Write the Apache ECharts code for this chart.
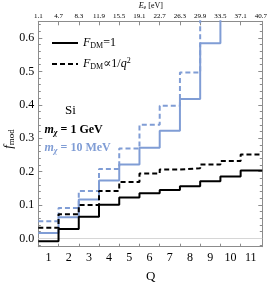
<!DOCTYPE html>
<html><head><meta charset="utf-8">
<script src="https://cdn.jsdelivr.net/npm/echarts@6/dist/echarts.min.js"></script>
<style>html,body{margin:0;padding:0;background:#fff}#c{width:270px;height:285px}</style>
</head><body><div id="c"></div>
<script>
// ---- data ----
const Q = [1,2,3,4,5,6,7,8,9,10,11];
const eLabels = ['1.1','4.7','8.3','11.9','15.5','19.1','22.7','26.3','29.9','33.5','37.1','40.7'];
const yTickLabels = [0.0,0.1,0.2,0.3,0.4,0.5,0.6];
const black1 = [-0.009,0.028,0.065,0.101,0.122,0.135,0.145,0.156,0.171,0.185,0.203];
const blackQ2 = [0.032,0.072,0.100,0.142,0.169,0.194,0.206,0.210,0.221,0.232,0.251];
const blue1 = [0.016,0.063,0.116,0.173,0.221,0.271,0.322,0.417,0.584,0.80,1.00];
const blueQ2 = [0.051,0.091,0.142,0.208,0.269,0.340,0.397,0.497,0.75,0.95,1.20];

const xMin = 0.5, xMax = 11.57, yMin = -0.025, yMax = 0.65;
const BLUE = '#809dd5';
const FONT = '"Liberation Serif", "DejaVu Serif", serif';
const FRAME = '#8c8c8c';

const halfVals = Q.slice(0, -1).map(q => q + 0.5);
const edgeVals = [Q[0] - 0.5].concat(Q.map(q => q + 0.5));
const minorY = [];
for (let k = -1; k <= 32; k++) { if (k % 5 !== 0) { const v = Math.round(k * 2) / 100; if (v > yMin && v < yMax) minorY.push(v); } }

function stepData(vals) {
  const d = Q.map((q, i) => [q - 0.5, vals[i]]);
  d.push([xMax, vals[vals.length - 1]]);
  return d;
}
const N1 = 'F_DM=1', N2 = 'F_DM∝1/q²';

const yBase = {type:'value', min:yMin, max:yMax, splitLine:{show:false}, gridIndex:0};
const option = {
  animation:false,
  backgroundColor:'#fff',
  grid:{left:38.3, right:6.7, top:21.3, bottom:38.3},
  xAxis:[
    {type:'value', min:xMin, max:xMax, position:'bottom', splitLine:{show:false},
     axisLine:{show:true, onZero:false, lineStyle:{color:FRAME, width:1}},
     axisTick:{show:true, inside:true, length:3, customValues:halfVals, lineStyle:{color:FRAME}},
     axisLabel:{customValues:Q, color:'#000', fontFamily:FONT, fontSize:12, margin:5, formatter:v=>String(v)}},
    {type:'value', min:xMin, max:xMax, position:'top', splitLine:{show:false},
     axisLine:{show:true, onZero:false, lineStyle:{color:FRAME, width:1}},
     axisTick:{show:true, inside:true, length:4, customValues:halfVals, lineStyle:{color:FRAME}},
     axisLabel:{customValues:edgeVals, color:'#000', fontFamily:FONT, fontSize:7, margin:2,
       formatter:v=>{const i=Math.round(v-0.5); return eLabels[i]||'';}}}
  ],
  yAxis:[
    Object.assign({}, yBase, {position:'left',
      axisLine:{show:true, onZero:false, lineStyle:{color:FRAME, width:1}},
      axisTick:{show:true, inside:true, length:4, customValues:yTickLabels, lineStyle:{color:FRAME}},
      axisLabel:{customValues:yTickLabels, color:'#000', fontFamily:FONT, fontSize:12, margin:4, formatter:v=>v.toFixed(1)}}),
    Object.assign({}, yBase, {position:'left',
      axisLine:{show:false},
      axisTick:{show:true, inside:true, length:2.5, customValues:minorY, lineStyle:{color:FRAME}},
      axisLabel:{show:false}}),
    Object.assign({}, yBase, {position:'right',
      axisLine:{show:true, onZero:false, lineStyle:{color:FRAME, width:1}},
      axisTick:{show:true, inside:true, length:4, customValues:yTickLabels, lineStyle:{color:FRAME}},
      axisLabel:{show:false}}),
    Object.assign({}, yBase, {position:'right',
      axisLine:{show:false},
      axisTick:{show:true, inside:true, length:2.5, customValues:minorY, lineStyle:{color:FRAME}},
      axisLabel:{show:false}})
  ],
  legend:{
    data:[N1, N2], orient:'vertical', left:46, top:32, itemWidth:26, itemHeight:14, itemGap:7,
    itemStyle:{opacity:0, borderWidth:0},
    formatter:n => n === N1 ? '{i|F}{s|DM}{t|=1}' : '{i|F}{s|DM}{t|∝1/}{i|q}{p|2}',
    textStyle:{fontFamily:FONT, fontSize:12, color:'#000', rich:{
      i:{fontFamily:FONT, fontStyle:'italic', fontSize:12, lineHeight:14},
      t:{fontFamily:FONT, fontSize:12, lineHeight:14},
      s:{fontFamily:FONT, fontSize:8, lineHeight:8, verticalAlign:'bottom'},
      p:{fontFamily:FONT, fontSize:8, lineHeight:8, verticalAlign:'top'}
    }}
  },
  series:[
    {name:'blue1', type:'line', step:'end', symbol:'none', data:stepData(blue1), z:2,
     lineStyle:{color:BLUE, width:2, type:'solid'}, itemStyle:{color:BLUE},
     markLine:{silent:true, symbol:['none','none'], label:{show:false}, z:1,
       lineStyle:{color:'#d6d6d6', width:1, type:'solid'}, data:[{yAxis:0}]}},
    {name:'blueQ2', type:'line', step:'end', symbol:'none', data:stepData(blueQ2), z:2,
     lineStyle:{color:BLUE, width:2, type:[5,3]}, itemStyle:{color:BLUE}},
    {name:N1, type:'line', step:'end', symbol:'none', data:stepData(black1), z:3,
     lineStyle:{color:'#000', width:2, type:'solid'}, itemStyle:{color:'#000'}},
    {name:N2, type:'line', step:'end', symbol:'none', data:stepData(blackQ2), z:3,
     lineStyle:{color:'#000', width:2, type:[5,3]}, itemStyle:{color:'#000'}}
  ],
  graphic:[
    {type:'text', x:150.8, y:5.5, style:{text:'{i|E}{s|e}{t| [eV]}', align:'center', verticalAlign:'middle', fill:'#000',
      rich:{i:{fontFamily:FONT, fontStyle:'italic', fontSize:8, lineHeight:9}, t:{fontFamily:FONT, fontSize:8, lineHeight:9},
            s:{fontFamily:FONT, fontSize:6, lineHeight:6, verticalAlign:'bottom'}}}},
    {type:'text', x:150.8, y:276.5, style:{text:'Q', font:'13px '+FONT, align:'center', verticalAlign:'middle', fill:'#000'}},
    {type:'text', x:9, y:139, rotation:Math.PI/2, style:{text:'{i|f}{s|mod}', align:'center', verticalAlign:'middle', fill:'#000',
      rich:{i:{fontFamily:FONT, fontStyle:'italic', fontSize:13, lineHeight:15}, s:{fontFamily:FONT, fontSize:9, lineHeight:9, verticalAlign:'bottom'}}}},
    {type:'text', x:65, y:110.7, style:{text:'Si', font:'13px '+FONT, align:'left', verticalAlign:'middle', fill:'#000'}},
    {type:'text', x:44.5, y:130, style:{text:'{i|m}{s|χ}{t| = 1 GeV}', align:'left', verticalAlign:'middle', fill:'#000',
      rich:{i:{fontFamily:FONT, fontStyle:'italic', fontWeight:'bold', fontSize:12, lineHeight:14},
            t:{fontFamily:FONT, fontWeight:'bold', fontSize:12, lineHeight:14},
            s:{fontFamily:FONT, fontStyle:'italic', fontWeight:'bold', fontSize:8, lineHeight:8, verticalAlign:'bottom'}}}},
    {type:'text', x:44.5, y:147.7, style:{text:'{i|m}{s|χ}{t| = 10 MeV}', align:'left', verticalAlign:'middle', fill:BLUE,
      rich:{i:{fontFamily:FONT, fontStyle:'italic', fontWeight:'bold', fontSize:12, lineHeight:14, color:BLUE},
            t:{fontFamily:FONT, fontWeight:'bold', fontSize:12, lineHeight:14, color:BLUE},
            s:{fontFamily:FONT, fontStyle:'italic', fontWeight:'bold', fontSize:8, lineHeight:8, verticalAlign:'bottom', color:BLUE}}}}
  ]
};
const chart = echarts.init(document.getElementById('c'), null, {renderer:'canvas'});
chart.setOption(option);
</script></body></html>
